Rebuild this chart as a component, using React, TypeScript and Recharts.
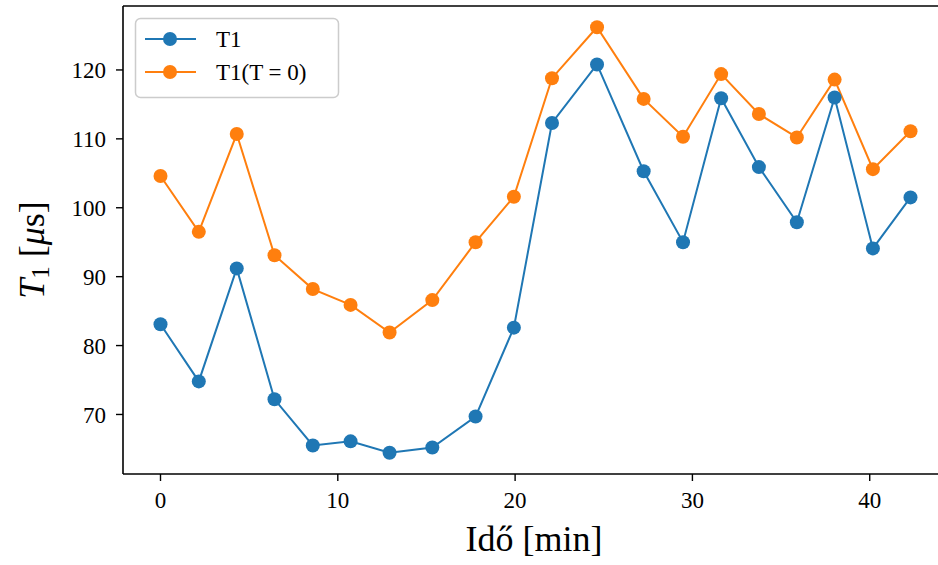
import { LineChart, Line, XAxis, YAxis, ReferenceLine } from "recharts";

// measurement times in minutes
const times = [
  0, 2.16, 4.3, 6.43, 8.59, 10.72, 12.92, 15.33, 17.77, 19.93, 22.08, 24.62,
  27.25, 29.47, 31.62, 33.75, 35.89, 38.02, 40.18, 42.3,
];

// T1 in microseconds
const t1 = [
  83.1, 74.8, 91.2, 72.2, 65.5, 66.1, 64.45, 65.2, 69.7, 82.6, 112.3, 120.8,
  105.3, 95.0, 115.9, 105.9, 97.9, 116.0, 94.1, 101.5,
];

// T1 with T = 0
const t1T0 = [
  104.6, 96.5, 110.7, 93.1, 88.2, 85.9, 81.9, 86.6, 95.0, 101.6, 118.8, 126.2,
  115.8, 110.3, 119.4, 113.6, 110.2, 118.6, 105.6, 111.1,
];

const xTicks = [0, 10, 20, 30, 40];
const yTicks = [70, 80, 90, 100, 110, 120];

const X_DOMAIN = [-2.115, 44.415];
const Y_DOMAIN = [61.36, 129.28];

const BLUE = "#1f77b4";
const ORANGE = "#ff7f0e";
const FONT = "Liberation Serif";

const data = times.map((time, i) => ({ time, t1: t1[i], t1T0: t1T0[i] }));

const tickStyle = { fill: "#000", fontSize: 23, fontFamily: FONT };

function YLabel() {
  return (
    <text
      x={32}
      y={250}
      transform="rotate(-90, 32, 250)"
      textAnchor="middle"
      dominantBaseline="central"
      fontSize={36}
      fontFamily={FONT}
      fill="#000"
    >
      <tspan fontStyle="italic">T</tspan>
      <tspan fontSize={25} dy={8}>1</tspan>
      <tspan dy={-8}>{"\u00a0["}</tspan>
      <tspan fontStyle="italic">μ</tspan>
      <tspan>s]</tspan>
    </text>
  );
}

function XLabel() {
  return (
    <text
      x={534}
      y={551}
      textAnchor="middle"
      fontSize={36}
      fontFamily={FONT}
      fill="#000"
    >
      Idő [min]
    </text>
  );
}

function LegendBox() {
  const rows = [
    { label: "T1", color: BLUE },
    { label: "T1(T = 0)", color: ORANGE },
  ];
  return (
    <svg
      width={210}
      height={90}
      style={{ position: "absolute", left: 132, top: 15 }}
    >
      <rect
        x={3.5}
        y={3.5}
        width={203}
        height={79}
        rx={5}
        fill="rgba(255,255,255,0.8)"
        stroke="#cccccc"
        strokeWidth={1.5}
      />
      {rows.map((r, i) => {
        const cy = 24 + i * 33;
        return (
          <g key={r.label}>
            <line x1={13} x2={64} y1={cy} y2={cy} stroke={r.color} strokeWidth={2} />
            <circle cx={38} cy={cy} r={7} fill={r.color} />
            <text
              x={84}
              y={cy}
              dominantBaseline="central"
              fontSize={23}
              fontFamily={FONT}
              fill="#000"
            >
              {r.label}
            </text>
          </g>
        );
      })}
    </svg>
  );
}

export default function App() {
  return (
    <div
      style={{
        position: "absolute",
        left: 0,
        top: 0,
        width: 938,
        height: 565,
        overflow: "hidden",
        background: "#fff",
        fontFamily: FONT,
      }}
    >
      <LineChart
        width={950}
        height={565}
        data={data}
        margin={{ top: 6, right: 2, bottom: 0, left: 0 }}
        style={{ fontFamily: FONT }}
      >
        <XAxis
          dataKey="time"
          type="number"
          domain={X_DOMAIN}
          ticks={xTicks}
          allowDataOverflow
          height={91}
          tick={tickStyle}
          tickSize={7}
          tickMargin={11}
          tickLine={{ stroke: "#000", strokeWidth: 1.4 }}
          axisLine={{ stroke: "#000", strokeWidth: 1.6 }}
          label={{ content: () => <XLabel /> }}
        />
        <YAxis
          type="number"
          domain={Y_DOMAIN}
          ticks={yTicks}
          allowDataOverflow
          width={123}
          tick={tickStyle}
          tickSize={7}
          tickMargin={10}
          tickLine={{ stroke: "#000", strokeWidth: 1.4 }}
          axisLine={{ stroke: "#000", strokeWidth: 1.6 }}
          label={{ content: () => <YLabel /> }}
        />
        <ReferenceLine y={Y_DOMAIN[1]} stroke="#000" strokeWidth={1.6} />
        <Line
          dataKey="t1"
          stroke={BLUE}
          strokeWidth={2}
          dot={{ r: 7, fill: BLUE, stroke: BLUE, strokeWidth: 0 }}
          activeDot={false}
          isAnimationActive={false}
        />
        <Line
          dataKey="t1T0"
          stroke={ORANGE}
          strokeWidth={2}
          dot={{ r: 7, fill: ORANGE, stroke: ORANGE, strokeWidth: 0 }}
          activeDot={false}
          isAnimationActive={false}
        />
      </LineChart>
      <LegendBox />
    </div>
  );
}
